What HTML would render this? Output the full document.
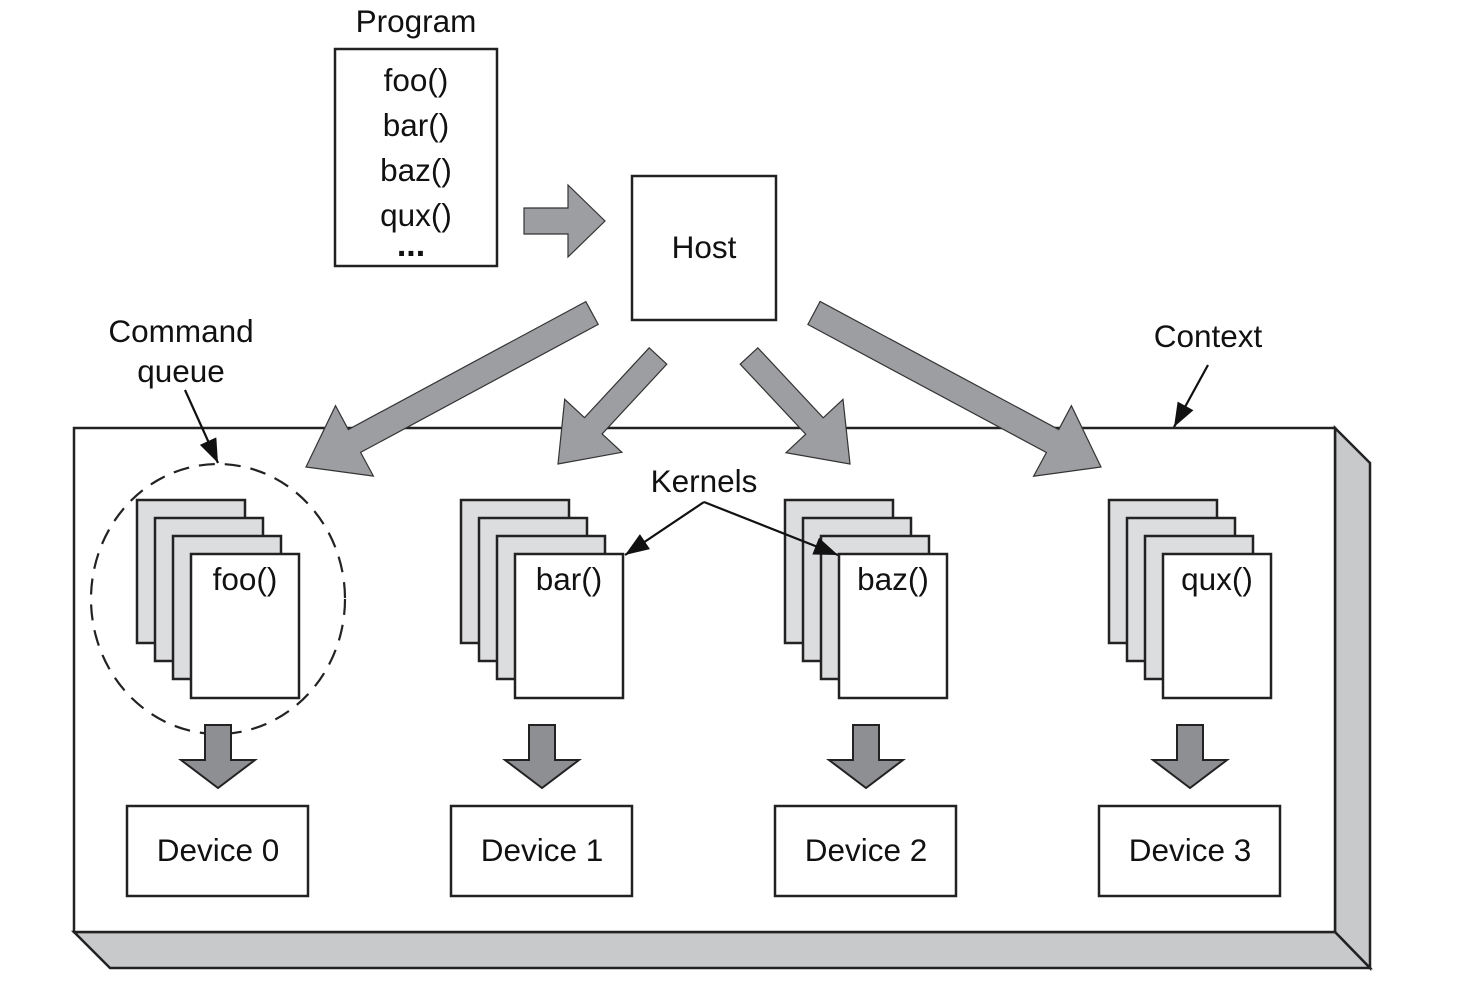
<!DOCTYPE html>
<html><head><meta charset="utf-8"><style>
html,body{margin:0;padding:0;background:#fff;}
svg{display:block;}
text{font-family:"Liberation Sans",Arial,sans-serif;fill:#111;}
</style></head><body>
<svg id="s" width="1483" height="998" viewBox="0 0 1483 998" xmlns="http://www.w3.org/2000/svg">
<polygon points="1335,428 1370,463 1370,968 1335,932" fill="#c8c9cb" stroke="#222" stroke-width="2.5"/>
<polygon points="74,932 1335,932 1370,968 110,968" fill="#c8c9cb" stroke="#222" stroke-width="2.5"/>
<rect x="74" y="428" width="1261" height="504" fill="#fff" stroke="#222" stroke-width="2.5"/>

<text x="416" y="32" font-size="31.5" text-anchor="middle">Program</text>
<rect x="335" y="49" width="162" height="217" fill="#fff" stroke="#222" stroke-width="2.5"/>
<text x="416" y="91" font-size="31.5" text-anchor="middle">foo()</text>
<text x="416" y="136" font-size="31.5" text-anchor="middle">bar()</text>
<text x="416" y="181" font-size="31.5" text-anchor="middle">baz()</text>
<text x="416" y="226" font-size="31.5" text-anchor="middle">qux()</text>
<text x="411" y="256" font-size="34" text-anchor="middle" font-weight="bold">...</text>

<rect x="632" y="176" width="144" height="144" fill="#fff" stroke="#222" stroke-width="2.5"/>
<text x="704" y="258" font-size="31.5" text-anchor="middle">Host</text>

<polygon points="524,208 568,208 568,185 605,221 568,257 568,234 524,234" fill="#9d9ea2" stroke="#333" stroke-width="1.2"/>

<g id="big"></g>

<text x="181" y="342" font-size="31.5" text-anchor="middle">Command</text>
<text x="181" y="382" font-size="31.5" text-anchor="middle">queue</text>
<text x="1208" y="347" font-size="31.5" text-anchor="middle">Context</text>
<text x="704" y="492" font-size="31.5" text-anchor="middle">Kernels</text>

<ellipse cx="218" cy="599" rx="127" ry="135" fill="none" stroke="#222" stroke-width="2.2" stroke-dasharray="16,10"/>

<g id="stacks"></g>
<g id="lines"></g>
</svg>
<script>
var NS="http://www.w3.org/2000/svg";
function el(p,tag,attrs,txt){var e=document.createElementNS(NS,tag);for(var k in attrs)e.setAttribute(k,attrs[k]);if(txt)e.textContent=txt;document.getElementById(p).appendChild(e);return e;}
function arrow(tx,ty,hx,hy,sw,hw,hl){
 var dx=hx-tx,dy=hy-ty,L=Math.sqrt(dx*dx+dy*dy),ux=dx/L,uy=dy/L,nx=-uy,ny=ux;
 var bx=hx-ux*hl,by=hy-uy*hl;
 var p=[[tx+nx*sw,ty+ny*sw],[bx+nx*sw,by+ny*sw],[bx+nx*hw,by+ny*hw],[hx,hy],[bx-nx*hw,by-ny*hw],[bx-nx*sw,by-ny*sw],[tx-nx*sw,ty-ny*sw]];
 el("big","polygon",{points:p.map(function(q){return q[0].toFixed(1)+","+q[1].toFixed(1)}).join(" "),fill:"#9d9ea2",stroke:"#333","stroke-width":"1.2"});
}
arrow(592,313,306,467,13,40,55);
arrow(658,356,558,464,12,39,52);
arrow(749,356,850,464,12,39,52);
arrow(814,313,1101,467,13,40,55);
var names=["foo()","bar()","baz()","qux()"];
for(var i=0;i<4;i++){
 var ox=324*i;
 for(var j=0;j<3;j++){el("stacks","rect",{x:137+ox+18*j,y:500+18*j,width:108,height:143,fill:"#dcdddf",stroke:"#222","stroke-width":"2.5"});}
 el("stacks","rect",{x:191+ox,y:554,width:108,height:144,fill:"#fff",stroke:"#222","stroke-width":"2.5"});
 el("stacks","text",{x:245+ox,y:590,"font-size":"31.5","text-anchor":"middle"},names[i]);
 var cx=218+ox;
 el("stacks","polygon",{points:(cx-13)+",725 "+(cx+13)+",725 "+(cx+13)+",760 "+(cx+37)+",760 "+cx+",788 "+(cx-37)+",760 "+(cx-13)+",760",fill:"#8e8f93",stroke:"#222","stroke-width":"2"});
 el("stacks","rect",{x:127+ox,y:806,width:181,height:90,fill:"#fff",stroke:"#222","stroke-width":"2.5"});
 el("stacks","text",{x:218+ox,y:861,"font-size":"31.5","text-anchor":"middle"},"Device "+i);
}
function line(x1,y1,x2,y2){
 el("lines","line",{x1:x1,y1:y1,x2:x2,y2:y2,stroke:"#111","stroke-width":"2.2"});
 var dx=x2-x1,dy=y2-y1,L=Math.sqrt(dx*dx+dy*dy),ux=dx/L,uy=dy/L,nx=-uy,ny=ux,hl=24,hw=9;
 var bx=x2-ux*hl,by=y2-uy*hl;
 el("lines","polygon",{points:x2+","+y2+" "+(bx+nx*hw)+","+(by+ny*hw)+" "+(bx-nx*hw)+","+(by-ny*hw),fill:"#111"});
}
line(185,390,218,463);
line(1208,365,1174,427);
line(704,502,625,555);
line(704,502,838,555);
</script>
</body></html>
